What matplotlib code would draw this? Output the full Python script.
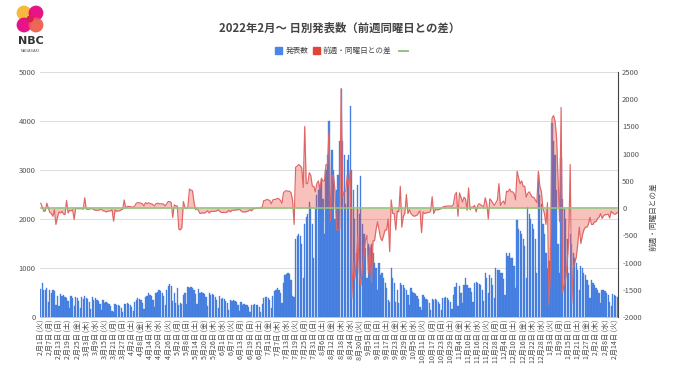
import datetime as dt
import numpy as np
import matplotlib
matplotlib.use("Agg")
import matplotlib.pyplot as plt
from matplotlib.patches import Rectangle, Circle

plt.rcParams['font.family'] = ['Noto Sans CJK JP', 'DejaVu Sans']

# ---------------- data ----------------
start_date = dt.date(2022, 2, 1)
weekday_names = ['月', '火', '水', '木', '金', '土', '日']
title_text = '2022年2月～ 日別発表数（前週同曜日との差）'
series_names = ['発表数', '前週・同曜日との差', '']

# daily cases 2022-01-25 .. 2022-01-31 (only used for the first week's difference)
prev_week = [490, 680, 620, 600, 500, 300, 640]

# daily cases from 2022-02-01 (Tue); one row per week, Tue..Mon
cases = [
    580, 700, 560, 550, 590, 300, 560,
    480, 550, 530, 250, 420, 230, 470,
    420, 440, 410, 390, 330, 190, 420,
    390, 230, 410, 380, 320, 180, 410,
    370, 420, 390, 360, 300, 170, 400,
    340, 380, 350, 320, 270, 150, 350,
    290, 310, 290, 270, 220, 120, 110,
    260, 250, 240, 220, 190, 100, 260,
    260, 280, 270, 250, 210, 120, 300,
    350, 380, 370, 340, 290, 160, 400,
    430, 480, 450, 420, 350, 200, 480,
    520, 560, 530, 500, 420, 240, 560,
    640, 680, 630, 330, 480, 280, 600,
    250, 280, 270, 450, 500, 270, 620,
    600, 610, 590, 560, 470, 270, 570,
    500, 520, 500, 470, 400, 220, 480,
    440, 460, 440, 410, 350, 190, 420,
    360, 380, 360, 330, 280, 150, 350,
    320, 340, 320, 300, 250, 130, 300,
    250, 270, 250, 240, 200, 100, 250,
    240, 260, 250, 240, 200, 110, 270,
    380, 400, 410, 390, 340, 190, 420,
    540, 560, 590, 560, 480, 280, 700,
    850, 880, 900, 870, 760, 420, 400,
    1600, 1650, 1700, 1650, 1500, 800, 1900,
    2050, 2100, 2350, 2250, 1900, 1200, 2200,
    2500, 2600, 2700, 2800, 2400, 1700, 3000,
    3300, 4000, 2460, 3400, 3000, 2000, 2600,
    2900, 3600, 4660, 3600, 3300, 2300, 3200,
    3300, 4300, 3000, 2600, 2000, 1300, 2700,
    2100, 2870, 1900, 1700, 1400, 800, 1500,
    1400, 1500, 1300, 1100, 1000, 550, 1100,
    850, 900, 800, 700, 600, 350, 300,
    1000, 800, 700, 300, 550, 280, 700,
    650, 650, 600, 550, 450, 250, 600,
    520, 500, 460, 420, 360, 200, 150,
    450, 400, 370, 340, 280, 150, 360,
    350, 370, 340, 310, 260, 140, 380,
    380, 400, 380, 350, 300, 170, 450,
    620, 690, 230, 630, 500, 280, 650,
    790, 650, 600, 600, 520, 300, 700,
    720, 700, 680, 660, 560, 330, 890,
    800, 500, 850, 800, 650, 380, 990,
    950, 950, 900, 900, 780, 450, 1300,
    1250, 1300, 1200, 1200, 1050, 600, 1980,
    1800, 1750, 1700, 1600, 1450, 800, 2250,
    2100, 2000, 1900, 1800, 1600, 900, 2925,
    2500, 2300, 1900, 1700, 1300, 1000, 1150,
    1400, 3950, 3600, 3300, 2600, 1500, 900,
    3250, 2400, 2200, 2000, 1600, 900, 1700,
    1500, 1300, 1200, 1100, 950, 550, 1050,
    1000, 900, 850, 750, 650, 380, 750,
    700, 650, 600, 560, 480, 280, 560,
    560, 530, 480, 450, 300, 220, 470,
    450, 420, 400,
]

left_ticks = [0, 1000, 2000, 3000, 4000, 5000]
right_ticks = [-2000, -1500, -1000, -500, 0, 500, 1000, 1500, 2000, 2500]

# ---------------- derived ----------------
cases_arr = np.array(cases, dtype=float)
full = np.array(prev_week + cases, dtype=float)
diff = full[7:] - full[:-7]          # difference vs same weekday of previous week
n = len(cases_arr)
x = np.arange(n)
dates = [start_date + dt.timedelta(days=int(i)) for i in x]
tick_idx = list(range(0, n, 6))
tick_labels = [f"{dates[i].month}月{dates[i].day}日 ({weekday_names[dates[i].weekday()]})"
               for i in tick_idx]

# ---------------- figure ----------------
W, H = 680, 382
fig = plt.figure(figsize=(W / 100, H / 100), dpi=100)
fig.patch.set_facecolor('white')

ax_l, ax_r, ax_t, ax_b = 40, 618, 72, 317
ax = fig.add_axes([ax_l / W, 1 - ax_b / H, (ax_r - ax_l) / W, (ax_b - ax_t) / H])
ax2 = ax.twinx()

blue = '#4a86e8'
ax.bar(x, cases_arr, width=0.82, color=blue, edgecolor='#3f74d0', linewidth=0.25, zorder=2)
ax.set_xlim(-0.5, n - 0.5)
ax.set_ylim(0, 5000)
ax.set_yticks(left_ticks)
ax.set_yticklabels([str(t) for t in left_ticks])
ax.grid(axis='y', color='#dcdcdc', linewidth=0.7, zorder=0)
ax.set_axisbelow(True)
ax.set_xticks(tick_idx)
ax.set_xticklabels(tick_labels, rotation=90)
ax.tick_params(axis='x', labelsize=5.1, length=0, pad=2, colors='#4a4a4a')
ax.tick_params(axis='y', labelsize=5.5, length=0, pad=3, colors='#555555')
for s in ['top', 'left', 'right']:
    ax.spines[s].set_visible(False)
ax.spines['bottom'].set_color('#bbbbbb')
ax.spines['bottom'].set_linewidth(0.6)

ax2.fill_between(x, diff, 0, color='#ea4335', alpha=0.33, linewidth=0, zorder=3)
ax2.plot(x, diff, color='#e06666', linewidth=0.85, zorder=4)
ax2.plot(x, np.zeros(n), color='#93c47d', linewidth=1.2, zorder=5)
ax2.set_ylim(-2000, 2500)
ax2.set_yticks(right_ticks)
ax2.set_yticklabels([str(t) for t in right_ticks])
ax2.tick_params(axis='y', labelsize=5.5, length=0, pad=3, colors='#555555')
for s in ['top', 'left', 'bottom']:
    ax2.spines[s].set_visible(False)
ax2.spines['right'].set_color('#444444')
ax2.spines['right'].set_linewidth(0.8)

# right axis title
fig.text(653 / W, 1 - 217 / H, series_names[1], rotation=90, fontsize=5.5,
         color='#444444', ha='center', va='center')

# title
fig.text(340 / W, 1 - 28 / H, title_text, fontsize=8.2, fontweight='bold',
         color='#444444', ha='center', va='center')

# overlay for legend and logo (pixel coordinates)
ov = fig.add_axes([0, 0, 1, 1], zorder=-1)
ov.set_xlim(0, W)
ov.set_ylim(H, 0)
ov.axis('off')

ly = 50.5
ov.add_patch(Rectangle((275, ly - 3.3), 6.5, 6.5, color='#4a86e8'))
ov.text(286, ly, series_names[0], fontsize=5.5, color='#444444', va='center', ha='left')
ov.add_patch(Rectangle((313, ly - 3.3), 6.5, 6.5, color='#e0443a'))
ov.text(323, ly, series_names[1], fontsize=5.5, color='#444444', va='center', ha='left')
ov.plot([399, 408], [ly, ly], color='#93c47d', linewidth=1.4)

# NBC logo
for (cx, cy, col) in [(24, 13, '#f7b22d'), (36, 13, '#e5007d'),
                      (24, 25, '#e4007f'), (36, 25, '#ec5a4b')]:
    ov.add_patch(Circle((cx, cy), 7.4, color=col, alpha=0.92, linewidth=0))
ov.add_patch(Circle((30, 19), 3.5, color='#d8204d', linewidth=0))
ov.text(30.5, 41.5, 'NBC', fontsize=8, fontweight='bold', color='#333333',
        ha='center', va='center', family=['DejaVu Sans'])
ov.text(30.5, 51, 'NAGASAKI', fontsize=2.6, color='#555555', ha='center', va='center',
        family=['DejaVu Sans'])

fig.savefig('out.png', dpi=100, facecolor='white')
